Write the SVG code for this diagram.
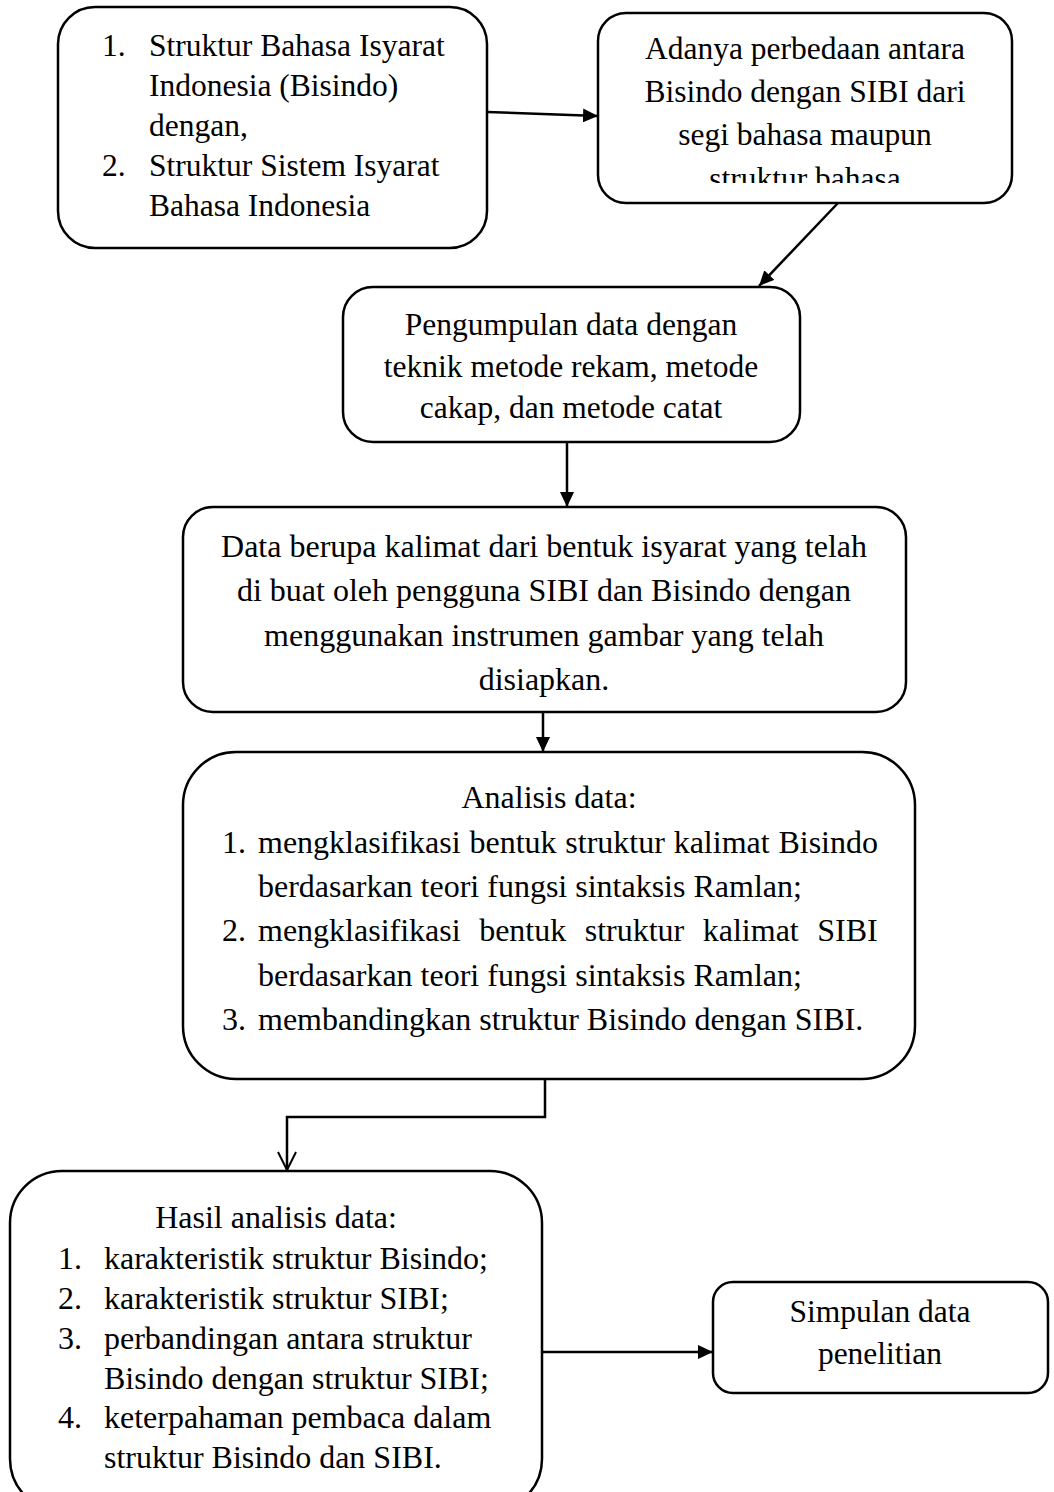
<svg xmlns="http://www.w3.org/2000/svg" width="1054" height="1492" viewBox="0 0 1054 1492">
  <style>
    .box { fill: #ffffff; stroke: #000000; stroke-width: 2.5; }
    .t { font-family: "Liberation Serif", "Times New Roman", serif; font-size: 31.5px; fill: #000000; }
    .b { font-size: 32px; }
    .c { text-anchor: middle; }
    .edge { fill: none; stroke: #000000; stroke-width: 2.5; }
  </style>
  <defs>
    <marker id="arrow" markerUnits="userSpaceOnUse" markerWidth="16" markerHeight="14" refX="15" refY="7" orient="auto">
      <path d="M0,0 L15,7 L0,14 z" fill="#000000"/>
    </marker>
    <marker id="open" markerUnits="userSpaceOnUse" markerWidth="22" markerHeight="22" refX="19" refY="10" orient="auto">
      <path d="M1,1 L19,10 L1,19" fill="none" stroke="#000000" stroke-width="2"/>
    </marker>
    <clipPath id="clip2">
      <rect x="598" y="12" width="414" height="171"/>
    </clipPath>
  </defs>

  <g id="connectors">
    <line class="edge" x1="487" y1="112" x2="598" y2="116" marker-end="url(#arrow)"/>
    <line class="edge" x1="838" y1="203" x2="759" y2="286" marker-end="url(#arrow)"/>
    <line class="edge" x1="567" y1="442" x2="567" y2="507" marker-end="url(#arrow)"/>
    <line class="edge" x1="543" y1="712" x2="543" y2="752" marker-end="url(#arrow)"/>
    <polyline class="edge" points="545,1078 545,1117 287,1117 287,1170" marker-end="url(#open)"/>
    <line class="edge" x1="542" y1="1352" x2="713" y2="1352" marker-end="url(#arrow)"/>
  </g>

  <g id="node-struktur">
    <rect class="box" x="58" y="7" width="429" height="241" rx="37" ry="37"/>
    <text class="t" x="102" y="56">1.</text>
    <text class="t" x="149" y="56">Struktur Bahasa Isyarat</text>
    <text class="t" x="149" y="96">Indonesia (Bisindo)</text>
    <text class="t" x="149" y="136">dengan,</text>
    <text class="t" x="102" y="176">2.</text>
    <text class="t" x="149" y="176">Struktur Sistem Isyarat</text>
    <text class="t" x="149" y="216">Bahasa Indonesia</text>
  </g>

  <g id="node-perbedaan">
    <rect class="box" x="598" y="13" width="414" height="190" rx="28" ry="28"/>
    <g clip-path="url(#clip2)">
      <text class="t c" x="805" y="59">Adanya perbedaan antara</text>
      <text class="t c" x="805" y="102">Bisindo dengan SIBI dari</text>
      <text class="t c" x="805" y="145">segi bahasa maupun</text>
      <text class="t c" x="805" y="189">struktur bahasa</text>
    </g>
  </g>

  <g id="node-pengumpulan">
    <rect class="box" x="343" y="287" width="457" height="155" rx="30" ry="30"/>
    <text class="t c" x="571" y="335">Pengumpulan data dengan</text>
    <text class="t c" x="571" y="377">teknik metode rekam, metode</text>
    <text class="t c" x="571" y="418">cakap, dan metode catat</text>
  </g>

  <g id="node-data">
    <rect class="box" x="183" y="507" width="723" height="205" rx="30" ry="30"/>
    <text class="t b c" x="544" y="557">Data berupa kalimat dari bentuk isyarat yang telah</text>
    <text class="t b c" x="544" y="601">di buat oleh pengguna SIBI dan Bisindo dengan</text>
    <text class="t b c" x="544" y="646">menggunakan instrumen gambar yang telah</text>
    <text class="t b c" x="544" y="690">disiapkan.</text>
  </g>

  <g id="node-analisis">
    <rect class="box" x="183" y="752" width="732" height="327" rx="53" ry="53"/>
    <text class="t b c" x="549" y="808">Analisis data:</text>
    <text class="t b" x="222" y="853">1.</text>
    <text class="t b" x="258" y="853" word-spacing="0.8">mengklasifikasi bentuk struktur kalimat Bisindo</text>
    <text class="t b" x="258" y="897">berdasarkan teori fungsi sintaksis Ramlan;</text>
    <text class="t b" x="222" y="941">2.</text>
    <text class="t b" x="258" y="941" word-spacing="10.5">mengklasifikasi bentuk struktur kalimat SIBI</text>
    <text class="t b" x="258" y="986">berdasarkan teori fungsi sintaksis Ramlan;</text>
    <text class="t b" x="222" y="1030">3.</text>
    <text class="t b" x="258" y="1030">membandingkan struktur Bisindo dengan SIBI.</text>
  </g>

  <g id="node-hasil">
    <rect class="box" x="10" y="1171" width="532" height="340" rx="52" ry="52"/>
    <text class="t b c" x="276" y="1228">Hasil analisis data:</text>
    <text class="t b" x="58" y="1269">1.</text>
    <text class="t b" x="104" y="1269">karakteristik struktur Bisindo;</text>
    <text class="t b" x="58" y="1309">2.</text>
    <text class="t b" x="104" y="1309">karakteristik struktur SIBI;</text>
    <text class="t b" x="58" y="1349">3.</text>
    <text class="t b" x="104" y="1349">perbandingan antara struktur</text>
    <text class="t b" x="104" y="1389">Bisindo dengan struktur SIBI;</text>
    <text class="t b" x="58" y="1428">4.</text>
    <text class="t b" x="104" y="1428">keterpahaman pembaca dalam</text>
    <text class="t b" x="104" y="1468">struktur Bisindo dan SIBI.</text>
  </g>

  <g id="node-simpulan">
    <rect class="box" x="713" y="1282" width="335" height="111" rx="20" ry="20"/>
    <text class="t c" x="880" y="1322">Simpulan data</text>
    <text class="t c" x="880" y="1364">penelitian</text>
  </g>
</svg>
